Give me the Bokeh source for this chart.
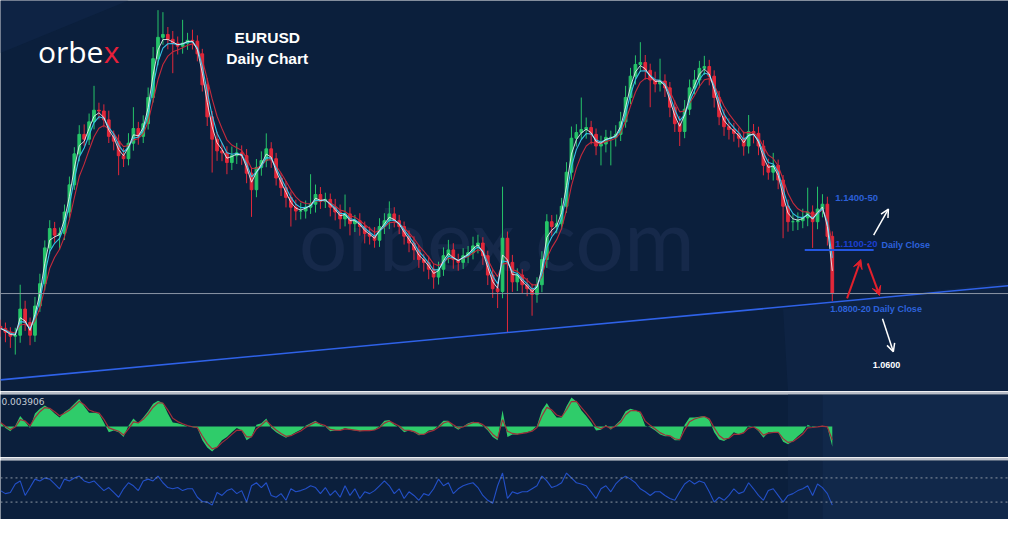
import numpy as np
import pandas as pd
from bokeh.plotting import figure
from bokeh.layouts import column
from bokeh.models import Range1d, Span, Label, Arrow, VeeHead, OpenHead, ColumnDataSource
from bokeh.embed import file_html
from bokeh.resources import INLINE

# ---------------- data ----------------
first_open = 1.0660
closes = [
    1.0648, 1.0625, 1.0601, 1.0607, 1.0764, 1.0683, 1.0607, 1.0782, 1.0916, 1.1131,
    1.1247, 1.1207, 1.1218, 1.1346, 1.1509, 1.1695, 1.1812, 1.1783, 1.1887, 1.1957,
    1.1952, 1.1899, 1.1800, 1.1771, 1.1684, 1.1666, 1.1759, 1.1847, 1.1800, 1.1876,
    1.2033, 1.2266, 1.2394, 1.2411, 1.2382, 1.2359, 1.2341, 1.2359, 1.2376, 1.2371,
    1.2295, 1.2109, 1.1917, 1.1783, 1.1713, 1.1701, 1.1643, 1.1684, 1.1701, 1.1684,
    1.1579, 1.1480, 1.1614, 1.1655, 1.1725, 1.1666, 1.1550, 1.1492, 1.1434, 1.1375,
    1.1352, 1.1352, 1.1375, 1.1393, 1.1451, 1.1410, 1.1422, 1.1375, 1.1346, 1.1305,
    1.1335, 1.1276, 1.1294, 1.1259, 1.1218, 1.1201, 1.1177, 1.1259, 1.1294, 1.1335,
    1.1294, 1.1259, 1.1201, 1.1160, 1.1119, 1.1061, 1.1044, 1.1003, 1.0956, 1.1003,
    1.1084, 1.1119, 1.1061, 1.1044, 1.1084, 1.1102, 1.1143, 1.1160, 1.1084, 1.0968,
    1.0886, 1.0869, 1.1189, 1.1044, 1.0927, 1.0968, 1.0910, 1.0886, 1.0852, 1.0910,
    1.1061, 1.1288, 1.1259, 1.1276, 1.1381, 1.1585, 1.1789, 1.1823, 1.1841, 1.1853,
    1.1812, 1.1742, 1.1754, 1.1794, 1.1794, 1.1812, 1.1887, 1.2033, 1.2161, 1.2231,
    1.2243, 1.2196, 1.2138, 1.2114, 1.2132, 1.2091, 1.1975, 1.1876, 1.1829, 1.1963,
    1.2091, 1.2138, 1.2208, 1.2219, 1.2161, 1.2033, 1.1917, 1.1858, 1.1841, 1.1818,
    1.1789, 1.1742, 1.1829, 1.1818, 1.1742, 1.1626, 1.1585, 1.1626, 1.1538, 1.1381,
    1.1288, 1.1288, 1.1294, 1.1311, 1.1346, 1.1288, 1.1364, 1.1393, 1.1200, 1.0860,
]
# upper / lower wick beyond the body, in pips
wick_up = [
    40, 35, 30, 45, 146, 50, 30, 55, 60, 45,
    50, 40, 35, 45, 50, 40, 55, 60, 50, 146,
    45, 40, 55, 35, 40, 45, 60, 128, 40, 50,
    60, 70, 163, 134, 45, 50, 40, 140, 45, 64,
    35, 30, 40, 35, 45, 50, 40, 55, 60, 45,
    40, 35, 50, 55, 93, 40, 35, 30, 40, 35,
    45, 50, 40, 180, 60, 45, 40, 35, 50, 45,
    116, 40, 35, 45, 30, 40, 55, 50, 45, 75,
    40, 35, 30, 35, 40, 30, 35, 40, 30, 45,
    50, 60, 40, 35, 45, 40, 55, 50, 35, 30,
    35, 40, 309, 40, 45, 40, 35, 40, 30, 45,
    50, 45, 40, 55, 50, 60, 70, 50, 192, 60,
    40, 35, 50, 45, 40, 55, 60, 70, 50, 55,
    122, 45, 40, 50, 134, 40, 35, 40, 45, 55,
    50, 60, 45, 64, 40, 35, 40, 45, 50, 40,
    35, 40, 99, 45, 40, 35, 40, 75, 35, 30,
    40, 45, 50, 55, 146, 40, 134, 60, 45, 30,
]
wick_dn = [
    50, 60, 70, 110, 45, 50, 60, 40, 35, 40,
    35, 45, 88, 40, 35, 30, 45, 40, 35, 45,
    50, 45, 40, 55, 117, 50, 40, 45, 50, 40,
    35, 30, 40, 45, 60, 180, 50, 45, 40, 50,
    45, 40, 55, 200, 60, 50, 70, 45, 50, 55,
    60, 163, 45, 50, 40, 55, 45, 50, 60, 116,
    55, 50, 45, 40, 50, 45, 40, 55, 50, 60,
    45, 70, 50, 55, 60, 50, 45, 40, 45, 50,
    40, 45, 50, 55, 60, 50, 55, 60, 70, 45,
    40, 45, 55, 50, 40, 45, 40, 45, 55, 60,
    55, 99, 40, 419, 60, 55, 50, 45, 128, 50,
    45, 50, 55, 40, 35, 40, 45, 50, 40, 55,
    60, 55, 116, 50, 168, 55, 40, 35, 40, 50,
    45, 55, 163, 50, 45, 55, 60, 50, 87, 40,
    35, 40, 45, 40, 55, 60, 50, 55, 60, 50,
    55, 58, 45, 60, 55, 60, 45, 50, 55, 192,
    60, 55, 50, 45, 50, 157, 45, 50, 55, 49,
]
# MACD main line, in units of 0.0001
macd = [
    5, -2, -6, 1, 13, 6, -2, 16, 22, 26, 22, 16, 11, 18, 22, 28, 34, 25, 17, 17,
    16, 5, -7, -5, -7, -13, 1, 10, 4, 11, 19, 28, 32, 29, 16, 5, 4, 2, 0, -1,
    -2, -17, -26, -31, -25, -17, -13, -7, -2, -5, -17, -13, 2, 4, 10, -2, -7, -11, -14, -11,
    -7, -4, 1, 4, 7, 2, 0, -6, -5, -5, -2, -4, -5, -6, -5, -5, -4, 0, 7, 8,
    2, -1, -7, -5, -7, -11, -10, -5, -4, 1, 7, 7, 0, -4, 0, 4, 6, 5, 1, -5,
    -13, -17, 20, -13, -10, -10, -8, -7, -5, 1, 20, 29, 19, 11, 11, 25, 36, 31, 20, 13,
    5, -5, -4, 2, -4, 2, 8, 19, 22, 20, 17, 1, -1, -5, -10, -12, -12, -17, -17, 2,
    11, 11, 12, 13, 8, -7, -16, -18, -14, -7, -10, -7, 1, 0, -6, -14, -7, -7, -7, -19,
    -22, -18, -12, -7, 2, -1, 0, 1, -1, -25,
]
rsi = [
    49, 44, 46, 60, 65, 41, 54, 68, 65, 70, 68, 60, 52, 68, 65, 70, 73, 65, 62, 65,
    57, 49, 54, 46, 38, 52, 62, 57, 49, 65, 68, 65, 73, 62, 54, 52, 54, 49, 52, 52,
    38, 31, 30, 25, 46, 41, 49, 52, 44, 49, 30, 57, 62, 54, 62, 41, 38, 44, 33, 52,
    47, 49, 52, 57, 54, 44, 54, 41, 49, 38, 57, 41, 52, 36, 47, 44, 49, 57, 65, 57,
    44, 52, 36, 47, 41, 33, 44, 41, 52, 68, 57, 62, 44, 52, 57, 60, 62, 54, 41, 33,
    28, 57, 78, 36, 47, 44, 47, 47, 52, 57, 73, 65, 54, 57, 62, 78, 70, 62, 60, 57,
    47, 36, 52, 57, 47, 60, 68, 73, 68, 62, 52, 47, 41, 47, 47, 41, 36, 33, 47, 60,
    66, 60, 65, 62, 47, 30, 38, 33, 41, 52, 44, 47, 62, 52, 41, 33, 49, 52, 41, 30,
    41, 44, 49, 52, 57, 41, 60, 54, 44, 25,
]
macd_top_label = "0.003906"

# analysis levels
level_support_zone = 1.1119     # 1.1100-20 line
level_gray = 1.0857             # horizontal reference line
trend_start = (0.0, 1.0339)     # rising trendline (bar index, price)
trend_end = (204.8, 1.0904)

# ---------------- styles ----------------
BG = "#0b1f3c"
SEP = "#b7bdc8"
GREEN = "#26c469"
RED = "#e3283a"
FONT = "Liberation Sans"

n = len(closes)
idx = np.arange(n)
opens = [first_open] + closes[:-1]
o = np.array(opens)
c = np.array(closes)
hi = np.maximum(o, c) + np.array(wick_up) * 1e-4
lo = np.minimum(o, c) - np.array(wick_dn) * 1e-4
cols = [GREEN if cc >= oo else RED for oo, cc in zip(o, c)]
src = ColumnDataSource(dict(x=idx, top=np.maximum(o, c), bottom=np.minimum(o, c),
                            hi=hi, lo=lo, color=cols))

s = pd.Series(closes)
ma_fast = s.ewm(span=2, adjust=False).mean()
ma_mid = s.ewm(span=3, adjust=False).mean()
ma_slow = s.ewm(span=5, adjust=False).mean()
sig = pd.Series(macd).ewm(span=2, adjust=False).mean()

xr = Range1d(0, 204.8)


def mkfig(h, yr, top_border=0):
    f = figure(width=1008, height=h, x_range=xr, y_range=yr, toolbar_location=None,
               output_backend="svg", x_axis_location=None, y_axis_location=None,
               min_border=0, background_fill_color=BG,
               border_fill_color=SEP if top_border else BG, outline_line_color=None)
    f.min_border_top = top_border
    f.min_border_left = 0
    f.min_border_right = 0
    f.min_border_bottom = 0
    f.grid.grid_line_color = None
    return f


# ---------------- main price panel ----------------
p = mkfig(391, Range1d(1.02695, 1.2615))

# faint background shapes
p.patch([159, 204.8, 204.8, 160], [1.0764, 1.0927, 1.02695, 1.02695],
        fill_color="#0f2546", fill_alpha=0.7, line_color=None)
p.patch([0, 26, 0], [1.2615, 1.2615, 1.2300], fill_color="#10264a", fill_alpha=0.6, line_color=None)

wm = Label(x=60.6, y=1.0886, text="orbex.com", text_font="Lato", text_font_size="86px",
           text_color="#16294a", level="underlay")
p.add_layout(wm)

p.segment(x0="x", y0="lo", x1="x", y1="hi", color="color", line_width=1, source=src)
p.vbar(x="x", width=0.55, top="top", bottom="bottom", fill_color="color",
       line_color="color", source=src)
p.line(idx, ma_slow, line_color="#c42a3c", line_width=1.1)
p.line(idx, ma_mid, line_color="#35c4e6", line_width=1.1)
p.line(idx, ma_fast, line_color="#f0f4f8", line_width=1.0, line_alpha=0.85)

p.add_layout(Span(location=level_gray, dimension="width", line_color="#8b95a5", line_width=1))
p.line([trend_start[0], trend_end[0]], [trend_start[1], trend_end[1]],
       line_color="#2f62e8", line_width=1.6)
p.line([163.4, 177.4], [level_support_zone, level_support_zone], line_color="#2456e0", line_width=2)

# arrows
p.add_layout(Arrow(end=OpenHead(size=8, line_color="white", line_width=1.5),
                   x_start=177.4, y_start=1.1207, x_end=180.4, y_end=1.1364,
                   line_color="white", line_width=1.5))
p.add_layout(Arrow(end=OpenHead(size=8, line_color="white", line_width=1.5),
                   x_start=179.2, y_start=1.0706, x_end=181.4, y_end=1.0508,
                   line_color="white", line_width=1.5))
p.add_layout(Arrow(end=VeeHead(size=9, line_color="#e3202c", fill_color="#e3202c"),
                   x_start=172.0, y_start=1.0828, x_end=174.8, y_end=1.1061,
                   line_color="#e3202c", line_width=2))
p.add_layout(Arrow(end=VeeHead(size=9, line_color="#e3202c", fill_color="#e3202c"),
                   x_start=176.2, y_start=1.1038, x_end=178.6, y_end=1.0846,
                   line_color="#e3202c", line_width=2))

# texts
def lab(fig, x, y, t, color, size, bold=True, align="left", base="middle", font=FONT):
    fig.add_layout(Label(x=x, y=y, text=t, text_color=color, text_font=font,
                         text_font_size=size, text_font_style="bold" if bold else "normal",
                         text_align=align, text_baseline=base))

lab(p, 7.6, 1.2307, "orbe", "white", "30px", bold=False, base="alphabetic", font="Open Sans")
lab(p, 21.0, 1.2307, "x", "#e8203a", "30px", bold=False, base="alphabetic", font="Open Sans")
lab(p, 54.2, 1.2391, "EURUSD", "white", "15.5px", align="center", base="alphabetic")
lab(p, 54.2, 1.2269, "Daily Chart", "white", "15.5px", align="center", base="alphabetic")
lab(p, 169.6, 1.1428, "1.1400-50", "#2b5fd8", "9.5px")
lab(p, 169.6, 1.1154, "1.1100-20", "#1c3fd0", "9.5px")
lab(p, 179.0, 1.1148, "Daily Close", "#2d62dc", "9px")
lab(p, 168.6, 1.0764, "1.0800-20 Daily Close", "#2d62dc", "9px")
lab(p, 177.2, 1.0427, "1.0600", "white", "9px")

# ---------------- MACD panel ----------------
m = mkfig(66, Range1d(-38.4, 39.6), top_border=3)
m.patch([160, 167, 167, 160], [-38.4, -38.4, 39.6, 39.6], fill_color="#0e2342", line_color=None)
m.patch([167, 204.8, 204.8, 167], [-38.4, -38.4, 39.6, 39.6], fill_color="#11284a", line_color=None)
m.varea(x=idx, y1=np.zeros(n), y2=macd, fill_color="#2fcc6a")
m.line(idx, sig, line_color="#a0303a", line_width=1.2)
lab(m, 0.2, 31.0, macd_top_label, "#c5ccd6", "9px", bold=False, font="DejaVu Sans")

# ---------------- RSI panel ----------------
r = mkfig(62, Range1d(1.2, 98.8), top_border=3)
r.patch([160, 167, 167, 160], [1.2, 1.2, 98.8, 98.8], fill_color="#0e2342", line_color=None)
r.patch([167, 204.8, 204.8, 167], [1.2, 1.2, 98.8, 98.8], fill_color="#11284a", line_color=None)
for lvl in (70, 30):
    r.add_layout(Span(location=lvl, dimension="width", line_color="#8d96a3",
                      line_width=1, line_dash="2 3"))
r.line(idx, rsi, line_color="#2350c8", line_width=1.1)

layout = column(p, m, r, spacing=0)
open("out.html", "w").write(file_html(layout, INLINE))
